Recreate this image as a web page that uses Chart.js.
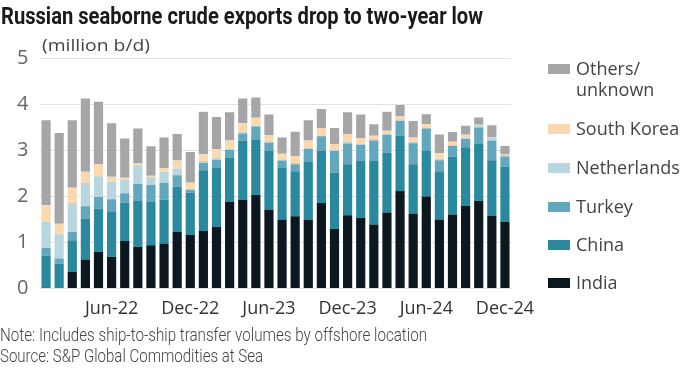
<!DOCTYPE html>
<html>
<head>
<meta charset="utf-8">
<script src="https://cdn.jsdelivr.net/npm/chart.js@4"></script>
<style>
  body { margin: 0; background: #fff; }
  #wrap { position: relative; width: 700px; height: 370px; overflow: hidden; font-family: "Open Sans", sans-serif; color: #333; }
  #c { position: absolute; left: 0; top: 0; }
  .txt { position: absolute; white-space: nowrap; display: inline-block; transform-origin: left center; line-height: 1; }
  #title { left: 1px; top: 4px; font-family: Roboto, sans-serif; font-weight: 700; font-size: 24px; color: #1a1a1a; }
  #unit { left: 42px; top: 36px; font-size: 17px; color: #444; }
  #note { left: 0px; top: 326px; font-family: Roboto, sans-serif; font-weight: 300; font-size: 18px; color: #444; }
  #source { left: 0px; top: 347px; font-family: Roboto, sans-serif; font-weight: 300; font-size: 18px; color: #444; }
  .leg { position: absolute; left: 548px; font-size: 18px; color: #444; line-height: 21px; }
  .leg i { position: absolute; left: 0; width: 22px; height: 10px; }
  .leg span { position: absolute; left: 28px; white-space: nowrap; }
</style>
</head>
<body>
<div id="wrap">
  <canvas id="c" width="700" height="370"></canvas>
  <div class="txt" id="title">Russian seaborne crude exports drop to two-year low</div>
  <div class="txt" id="unit">(million b/d)</div>
  <div class="txt" id="note">Note: Includes ship-to-ship transfer volumes by offshore location</div>
  <div class="txt" id="source">Source: S&amp;P Global Commodities at Sea</div>
  <div id="legend"></div>
</div>
<script>
// months Jan-22 .. Dec-24
const months = [
  "Jan-22","Feb-22","Mar-22","Apr-22","May-22","Jun-22","Jul-22","Aug-22","Sep-22","Oct-22","Nov-22","Dec-22",
  "Jan-23","Feb-23","Mar-23","Apr-23","May-23","Jun-23","Jul-23","Aug-23","Sep-23","Oct-23","Nov-23","Dec-23",
  "Jan-24","Feb-24","Mar-24","Apr-24","May-24","Jun-24","Jul-24","Aug-24","Sep-24","Oct-24","Nov-24","Dec-24"
];
const yTicks = [0, 1, 2, 3, 4, 5];

// million b/d
const india = [0.02,0,0.36,0.63,0.80,0.69,1.03,0.91,0.94,0.98,1.23,1.17,
  1.25,1.34,1.88,1.93,2.03,1.72,1.50,1.57,1.49,1.86,1.30,1.59,
  1.54,1.39,1.65,2.12,1.63,2.00,1.50,1.61,1.80,1.91,1.58,1.45];
const china = [0.69,0.54,0.69,0.89,0.94,0.99,0.84,0.99,0.94,0.95,0.99,0.91,
  1.32,1.29,0.97,1.29,1.20,1.27,1.12,0.98,1.26,1.13,1.22,1.11,
  1.23,1.38,1.30,1.20,1.07,0.99,1.05,1.26,1.27,1.23,1.21,1.20];
const turkey = [0.17,0.11,0.18,0.27,0.25,0.26,0.20,0.37,0.37,0.37,0.24,0.06,
  0.16,0.17,0.16,0.15,0.29,0.18,0.16,0.15,0.28,0.32,0.47,0.45,
  0.35,0.45,0.39,0.32,0.46,0.49,0.24,0.23,0.18,0.36,0.43,0.22];
const netherlands = [0.57,0.53,0.63,0.51,0.45,0.38,0.29,0.41,0.18,0.24,0.15,0.03,
  0.04,0.03,0.03,0.04,0.02,0.03,0.02,0.03,0.03,0.02,0.02,0.04,
  0.02,0.03,0.03,0.04,0.03,0.02,0.03,0.02,0.03,0.05,0.05,0.04];
const southKorea = [0.36,0.23,0.33,0.24,0.26,0.11,0.05,0.04,0.02,0.08,0.17,0.13,
  0.15,0.20,0.18,0.18,0.17,0.13,0.13,0.15,0.16,0.16,0.13,0.17,
  0.13,0.07,0.06,0.06,0.09,0.07,0.12,0.07,0.06,0.01,0.01,0.01];
const others = [1.85,1.97,1.47,1.59,1.36,1.16,0.85,0.76,0.64,0.66,0.58,0.67,
  0.92,0.70,0.61,0.54,0.44,0.45,0.35,0.53,0.44,0.41,0.35,0.47,
  0.51,0.25,0.41,0.25,0.36,0.22,0.41,0.21,0.20,0.16,0.27,0.18];

const series = [
  { label: "India", data: india, color: "#0b1820" },
  { label: "China", data: china, color: "#2a889f" },
  { label: "Turkey", data: turkey, color: "#62a7bd" },
  { label: "Netherlands", data: netherlands, color: "#b7d6df" },
  { label: "South Korea", data: southKorea, color: "#fbd8ad" },
  { label: "Others/\nunknown", data: others, color: "#a6a6a9" }
];

// stretch text boxes to the widths seen in the reference
function fitX(id, w) {
  let el = document.getElementById(id);
  let cur = el.getBoundingClientRect().width;
  el.style.transform = "scaleX(" + (w / cur) + ")";
}
fitX("title", 482);
fitX("unit", 108);
fitX("note", 427);
fitX("source", 263);

// legend, top entry = last series
const legTops = [272, 234, 196, 157, 118, 58];
const legend = document.getElementById("legend");
series.forEach((s, i) => {
  let d = document.createElement("div");
  d.className = "leg";
  d.style.top = legTops[i] + "px";
  let lines = s.label.split("\n");
  d.innerHTML = '<i style="background:' + s.color + ';top:6px"></i><span>' + lines.join("<br>") + "</span>";
  legend.appendChild(d);
});

new Chart(document.getElementById("c"), {
  type: "bar",
  data: {
    labels: months,
    datasets: series.map(s => ({
      label: s.label,
      data: s.data,
      backgroundColor: s.color,
      borderWidth: 0,
      barPercentage: 0.7,
      categoryPercentage: 1
    }))
  },
  options: {
    responsive: false,
    animation: false,
    layout: { padding: { left: 0, right: 188.5, top: 58.5, bottom: 0 } },
    plugins: { legend: { display: false }, tooltip: { enabled: false } },
    scales: {
      x: {
        stacked: true,
        grid: { display: false },
        border: { display: false },
        ticks: {
          autoSkip: false,
          maxRotation: 0,
          padding: 2,
          color: "#333",
          font: { family: "Open Sans", size: 18 },
          callback: function (v, i) {
            let m = months[i];
            return (m.startsWith("Jun") || m.startsWith("Dec")) ? m : "";
          }
        },
        afterFit: s => { s.height = 370 - 288.5; }
      },
      y: {
        stacked: true,
        min: 0,
        max: 5,
        afterBuildTicks: s => { s.ticks = yTicks.map(v => ({ value: v })); },
        grid: { color: "#e2e2e2", drawTicks: false, lineWidth: 1 },
        border: { display: false },
        ticks: {
          padding: 11,
          color: "#666",
          font: { family: "Open Sans", size: 20 }
        },
        afterFit: s => { s.width = 39.5; }
      }
    }
  }
});
</script>
</body>
</html>
